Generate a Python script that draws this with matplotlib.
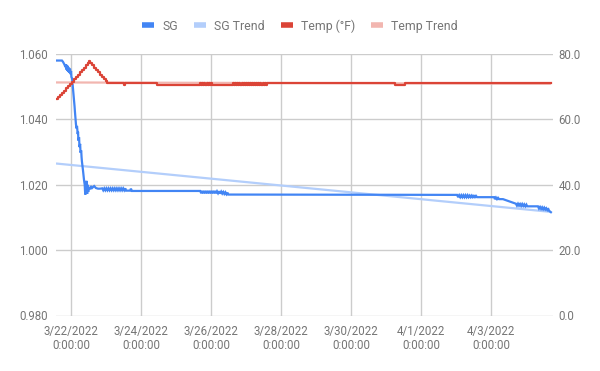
import matplotlib
matplotlib.use("Agg")
import matplotlib.pyplot as plt
import matplotlib.ticker as mticker
import pandas as pd
from matplotlib.lines import Line2D

plt.rcParams['font.family'] = ['Roboto', 'DejaVu Sans']

BASE = pd.Timestamp("2022-03-22 00:00:00")

# SG series: (days since 3/22/2022 0:00, specific gravity)
sg_days = [-0.43, -0.26, -0.23, -0.19, -0.16, -0.14, -0.13, -0.11, -0.10, -0.09,
           -0.07, -0.06, -0.04, -0.03, -0.01, 0.00, 0.01, 0.03, 0.06, 0.09,
           0.10, 0.11, 0.13, 0.14, 0.16, 0.17, 0.19, 0.20, 0.21, 0.23,
           0.24, 0.26, 0.27, 0.29, 0.30, 0.31, 0.34, 0.37, 0.39, 0.40,
           0.41, 0.43, 0.44, 0.46, 0.47, 0.49, 0.51, 0.54, 0.57, 0.60,
           0.66, 0.71, 0.77, 0.83,
           0.89, 0.92, 0.95, 0.98, 1.01, 1.04, 1.07, 1.10, 1.13, 1.16,
           1.19, 1.22, 1.25, 1.28, 1.31, 1.34, 1.37, 1.40, 1.43, 1.46,
           1.49, 1.52, 1.55, 1.57, 1.69, 1.71, 1.74,
           3.69, 3.72, 3.75, 3.78, 3.81, 3.84, 3.87, 3.90, 3.93, 3.96,
           3.99, 4.02, 4.05, 4.08, 4.11, 4.14, 4.17, 4.20, 4.23, 4.26,
           4.29, 4.32, 4.35, 4.38, 4.41, 4.44, 4.47, 4.49,
           11.03, 11.06, 11.09, 11.12, 11.15, 11.18, 11.21, 11.24, 11.27, 11.30,
           11.33, 11.36, 11.39, 11.42, 11.45, 11.48, 11.51, 11.54, 11.57, 11.60,
           11.63, 12.09, 12.11, 12.14, 12.17, 12.20, 12.23, 12.34,
           12.71, 12.74, 12.77, 12.80, 12.83, 12.86, 12.89, 12.92, 12.95, 12.98,
           13.01, 13.03,
           13.34, 13.37, 13.40, 13.43, 13.46, 13.49, 13.52, 13.55, 13.58, 13.61,
           13.64, 13.66, 13.71]
sg_vals = [1.0580, 1.0580, 1.0576, 1.0568, 1.0560, 1.0568, 1.0552, 1.0565, 1.0548, 1.0562,
           1.0545, 1.0558, 1.0542, 1.0555, 1.0538, 1.0548, 1.0530, 1.0525, 1.0490, 1.0455,
           1.0440, 1.0425, 1.0400, 1.0385, 1.0372, 1.0380, 1.0355, 1.0362, 1.0335, 1.0345,
           1.0315, 1.0325, 1.0298, 1.0305, 1.0285, 1.0272, 1.0245, 1.0215, 1.0200, 1.0180,
           1.0170, 1.0198, 1.0212, 1.0172, 1.0200, 1.0178, 1.0192, 1.0186, 1.0196, 1.0190,
           1.0196, 1.0190, 1.0188, 1.0188,
           1.0189, 1.0183, 1.0189, 1.0183, 1.0189, 1.0183, 1.0189, 1.0183, 1.0189, 1.0183,
           1.0189, 1.0183, 1.0189, 1.0183, 1.0189, 1.0183, 1.0189, 1.0183, 1.0189, 1.0183,
           1.0189, 1.0183, 1.0189, 1.0182, 1.0182, 1.0188, 1.0181,
           1.0181, 1.0174, 1.0181, 1.0174, 1.0181, 1.0174, 1.0181, 1.0174, 1.0181, 1.0174,
           1.0181, 1.0174, 1.0181, 1.0174, 1.0181, 1.0174, 1.0180, 1.0174, 1.0180, 1.0173,
           1.0179, 1.0173, 1.0178, 1.0172, 1.0177, 1.0171, 1.0176, 1.0170,
           1.0169, 1.0162, 1.0168, 1.0162, 1.0168, 1.0162, 1.0168, 1.0162, 1.0168, 1.0162,
           1.0168, 1.0162, 1.0167, 1.0162, 1.0167, 1.0162, 1.0166, 1.0162, 1.0166, 1.0162,
           1.0162, 1.0162, 1.0156, 1.0161, 1.0156, 1.0160, 1.0156, 1.0156,
           1.0142, 1.0136, 1.0142, 1.0136, 1.0141, 1.0135, 1.0141, 1.0135, 1.0140, 1.0134,
           1.0139, 1.0134,
           1.0134, 1.0127, 1.0132, 1.0126, 1.0131, 1.0125, 1.0130, 1.0124, 1.0128, 1.0122,
           1.0125, 1.0120, 1.0116]

# Temperature series (°F), step-wise readings
temp_days = [-0.43, -0.37, -0.31, -0.26, -0.20, -0.14, -0.09, -0.03, 0.03, 0.09,
             0.14, 0.20, 0.26, 0.31, 0.37, 0.43, 0.47, 0.51, 0.54, 0.60,
             0.66, 0.71, 0.77, 0.83, 0.89, 0.94, 1.00, 1.03, 1.51, 1.54,
             2.46,
             3.69, 3.72, 3.75, 3.78, 3.81, 3.84, 3.87, 3.90, 3.93, 3.96,
             3.99, 4.02, 4.06,
             4.63, 4.66, 4.69, 4.72, 4.75, 4.78, 4.81, 4.84, 4.87, 4.90,
             4.93, 4.96, 4.99, 5.02, 5.05, 5.08, 5.11, 5.14, 5.17, 5.20,
             5.23, 5.26, 5.29, 5.32, 5.35, 5.38, 5.41, 5.44, 5.47, 5.50,
             5.53, 5.56, 5.59, 5.63,
             9.26, 9.54, 13.71]
temp_vals = [66.1, 66.8, 67.5, 68.2, 68.8, 69.5, 70.2, 70.8, 71.5, 72.2,
             72.9, 73.7, 74.4, 75.1, 75.8, 76.6, 77.3, 78.0, 77.3, 76.6,
             75.8, 75.1, 74.4, 73.7, 73.0, 72.3, 71.7, 71.0, 70.5, 71.0,
             70.5,
             71.0, 70.5, 71.0, 70.5, 71.0, 70.5, 71.0, 70.5, 71.0, 70.5,
             71.0, 70.5, 70.5,
             71.0, 70.5, 71.0, 70.5, 71.0, 70.5, 71.0, 70.5, 71.0, 70.5,
             71.0, 70.5, 71.0, 70.5, 71.0, 70.5, 71.0, 70.5, 71.0, 70.5,
             71.0, 70.5, 71.0, 70.5, 71.0, 70.5, 71.0, 70.5, 71.0, 70.5,
             71.0, 70.5, 71.0, 71.0,
             70.5, 71.0, 71.0]

# Linear trend lines (start, end)
sg_trend_days = [-0.43, 13.71]
sg_trend_vals = [1.0265, 1.0117]
temp_trend_days = [-0.43, 13.71]
temp_trend_vals = [71.3, 70.9]

x_tick_days = [0, 2, 4, 6, 8, 10, 12]
x_tick_labels = ["3/22/2022\n0:00:00", "3/24/2022\n0:00:00", "3/26/2022\n0:00:00",
                 "3/28/2022\n0:00:00", "3/30/2022\n0:00:00", "4/1/2022\n0:00:00",
                 "4/3/2022\n0:00:00"]
legend_labels = ["SG", "SG Trend", "Temp (°F)", "Temp Trend"]


def to_dt(days):
    return BASE + pd.to_timedelta(days, unit="D")


C_SG = "#4285F4"
C_SG_T = "#B3CEFB"
C_TEMP = "#DB4437"
C_TEMP_T = "#F2B6B0"
GRID = "#CCCCCC"
TXT = "#757575"

fig = plt.figure(figsize=(6.0, 3.71), dpi=100)
ax = fig.add_axes([56/600, 1-315.5/371, (553-56)/600, (315.5-54)/371])
ax2 = ax.twinx()

ax.plot(to_dt(sg_trend_days), sg_trend_vals, color=C_SG_T, lw=1.6, zorder=2, solid_capstyle='butt')
ax.plot(to_dt(sg_days), sg_vals, color=C_SG, lw=1.6, zorder=3, solid_joinstyle='miter')

ax2.plot(to_dt(temp_trend_days), temp_trend_vals, color=C_TEMP_T, lw=1.6, zorder=2, solid_capstyle='butt')
ax2.plot(to_dt(temp_days), temp_vals, color=C_TEMP, lw=1.6, zorder=3, drawstyle='steps-post')

ax.set_xlim(to_dt(-0.43), to_dt(13.77))
ax.set_ylim(0.98, 1.06)
ax2.set_ylim(0, 80)

ax.set_yticks([0.98, 1.00, 1.02, 1.04, 1.06])
ax.yaxis.set_major_formatter(mticker.FormatStrFormatter("%.3f"))
ax2.set_yticks([0, 20, 40, 60, 80])
ax2.yaxis.set_major_formatter(mticker.FormatStrFormatter("%.1f"))

ax.set_xticks(to_dt(x_tick_days))
ax.set_xticklabels(x_tick_labels)

for a in (ax, ax2):
    for s in a.spines.values():
        s.set_visible(False)
    a.tick_params(length=0, colors=TXT, labelsize=8.3)

ax.tick_params(axis='y', pad=6)
ax2.tick_params(axis='y', pad=4)
ax.tick_params(axis='x', pad=6.5)
for lbl in ax.get_xticklabels():
    lbl.set_linespacing(1.12)

ax.grid(True, color=GRID, lw=1.0)
ax.set_axisbelow(True)

handles = [Line2D([], [], color=c, lw=4, solid_capstyle='butt') for c in (C_SG, C_SG_T, C_TEMP, C_TEMP_T)]
fig.legend(handles, legend_labels, loc="center",
           bbox_to_anchor=(0.5, 1-26/371), ncol=4, frameon=False, fontsize=8.8,
           labelcolor=TXT, handlelength=1.0, handletextpad=0.65, columnspacing=1.3)

fig.savefig("out.png", dpi=100)
